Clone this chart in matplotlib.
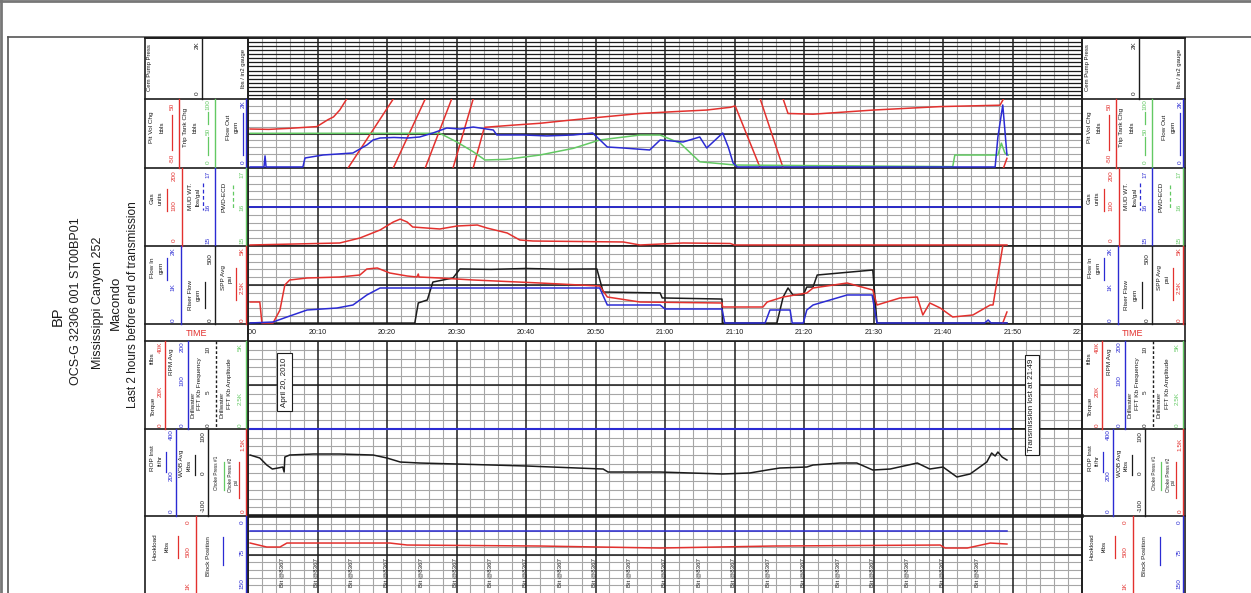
import numpy as np
import matplotlib.pyplot as plt

plt.rcParams['font.family'] = ['Liberation Sans', 'DejaVu Sans']

W, H = 1251, 593
X0, X1 = 248, 1082          # plot area in pixels
RED, BLUE, GREEN = '#e3312e', '#2b2bd3', '#63c963'
INK, MINOR = '#1c1c1c', '#a6a6a6'
nan = np.nan

# ---------------- data (time = minutes after 20:00) ----------------
time_labels = ['20:00', '20:10', '20:20', '20:30', '20:40', '20:50', '21:00',
               '21:10', '21:20', '21:30', '21:40', '21:50', '22:00']
bit_minutes = list(range(5, 110, 5))
bit_text = 'Bit @8367'

# track 2 : pit volume change (wraps at +/-50 bbl), trip tank, flow out
pit_t = [0.3, 3.0, 6.0, 9.9, 11.5, 12.3, 13.2, 14.2, nan,
         14.4, 20.9, nan, 20.9, 25.5, nan, 25.5, 29.3, nan, 29.5, 32.4, nan,
         32.4, 33.9, 34.1, 38.0, 42.0, 46.0, 50.6, 56.4, 61.2, 66.0, 69.4, 70.1, 73.7, nan,
         73.7, 77.0, nan,
         77.0, 77.7, 81.3, 90.0, 99.6, 108.2, 108.7, nan,
         108.7, 109.2]
pit_v = [6.5, 6.0, 7.5, 10, 20, 24, 34, 50, nan,
         -50, 50, nan, -50, 50, nan, -50, 50, nan, -50, 50, nan,
         -50, 5, 9, 12, 14.8, 19, 23.5, 29, 31.6, 34, 38, 40, -50, nan,
         50, -50, nan,
         50, 29, 28, 34, 39, 41, 50, nan,
         -50, -36]

trip_t = [0.3, 27.6, 30.0, 32.4, 34.1, 37.2, 42.0, 46.8, 50.6, 56.4, 59.3, 62.2,
          65.0, 70.1, 101.4, 101.7, 107.9, 108.4, 108.9, 109.4]
trip_v = [50.3, 50.3, 38, 23.6, 11.6, 12.6, 18.8, 28.5, 40.6, 47.8, 47.8, 35.8,
          9, 4.3, 2, 18.8, 18.8, 36, 21.7, 18.8]

fout_t = [0.3, 2.3, 2.45, 2.6, 7.9, 8.2, 10.8, 15.1, 17.1, 18.0, 19.0, 21.0, 23.0,
          24.7, 26.6, 28.6, 30.5, 32.4, 35.3, 35.8, 39.6, 43.0, 46.8, 49.6, 51.7,
          54.0, 57.8, 59.3, 62.6, 65.0, 66.0, 68.3, 69.1, 69.8, 70.4, 107.5, 107.9,
          108.6, 109.2]
fout_v = [30, 30, 350, 30, 30, 290, 377, 435, 667, 812, 870, 885, 870,
          899, 1014, 1159, 1130, 1188, 1101, 957, 957, 930, 957, 1014, 609,
          580, 522, 812, 754, 899, 580, 1014, 609, 145, 30, 30, 899,
          1826, 377]

# track 3 : gas, mud weight
gas_t = [0.3, 13.2, 16.1, 19.0, 20.9, 21.9, 22.9, 23.7, 27.6, 30.1, 33.0, 34.4,
         37.3, 39.1, 41.0, 54.0, 56.4, 62.6, 69.4, 70.0, 109.2]
gas_v = [2.6, 7.7, 20.5, 41, 61.5, 69, 61.5, 48.7, 43.6, 51.3, 53.8, 46,
         33.3, 15.4, 12.8, 10.3, 2.6, 7.7, 6.4, 2.6, 2.6]
mudwt_t = [0, 120]
mudwt_v = [16, 16]

# track 4 : SPP, flow in, riser flow
spp_t = [0.3, 1.7, 2.0, 3.6, 4.6, 5.3, 6.0, 8.5, 13.2, 16.1, 17.1, 18.6, 20.4,
         22.9, 24.3, 24.5, 24.6, 27.6, 32.4, 42.0, 50.6, 51.7, 56.4, 68.2, 68.3,
         74.1, 74.7, 77.0, 80.4, 81.3, 86.2, 89.9, 90.5, 93.8, 96.3, 97.1, 98.1,
         99.6, 101.4, 104.3, 106.8, 107.2, 108.6, nan, 108.6, 109.2]
spp_v = [1410, 1410, 64, 64, 897, 2500, 2821, 2949, 3013, 3141, 3526, 3590, 3269,
         3077, 3013, 3205, 3013, 2949, 2821, 2628, 2436, 1731, 1410, 1346, 1090,
         1090, 1410, 1731, 1987, 2308, 2628, 2179, 1218, 1667, 1731, 577, 1346,
         1026, 449, 577, 1218, 1218, 5000, nan, 64, 769]

fin_t = [0.3, 3.6, 5.6, 8.5, 12.8, 15.1, 17.1, 19.0, 50.6, 51.7, 59.3, 60.0, 68.2,
         68.6, 74.4, 75.1, 78.0, 78.3, 79.9, 80.4, 81.3, 86.2, 89.8, 90.5, 106.0,
         106.5, 106.9, 109.2]
fin_v = [26, 51, 179, 359, 410, 487, 744, 923, 923, 487, 487, 385, 385,
         26, 26, 359, 359, 26, 26, 359, 487, 744, 744, 26, 26,
         103, 26, 26]

riser_t = [0.3, 24.0, 24.5, 25.8, 26.6, 29.5, 30.5, 35.0, 40.0, 45.0, 50.2, 51.1,
           59.3, 59.6, 68.2, 68.3, 76.1, 77.0, 77.7, 78.4, 79.9, 80.4, 81.3, 81.9,
           89.9, 90.5, 109.2]
riser_v = [6, 6, 135, 154, 269, 295, 353, 350, 356, 351, 353, 205,
           199, 167, 160, 6, 6, 173, 231, 186, 186, 237, 237, 314,
           346, 6, 6]

# track 5 : rpm
rpm_t = [0, 109.6]
rpm_v = [0, 0]

# track 6 : WOB
wob_t = [0.3, 1.7, 2.7, 3.5, 4.3, 5.0, 5.2, 5.3, 6.0, 9.4, 13.2, 18.0, 20.0, 21.9,
         24.7, 30.1, 40.1, 51.1, 51.8, 59.3, 63.6, 68.3, 72.2, 74.7, 76.5, 80.4,
         81.3, 85.2, 87.6, 89.9, 92.4, 96.3, 98.1, 100.0, 102.0, 103.9, 106.3,
         107.0, 107.5, 107.9, 108.5, 109.2]
wob_v = [40.2, 33.3, 17.2, 8, 10.3, 12.6, 1.1, 35.6, 40.2, 42.5, 42.5, 40.2, 33.3, 24.1,
         21.8, 19.5, 14.9, 8, 1.1, 1.1, -1.1, -3.4, -1.1, 5.7, 10.3, 12.6,
         17.2, 21.8, 21.8, 5.7, 8, 21.8, 8, 12.6, -10.3, -3.4, 24.1,
         44.8, 37.9, 47.1, 35.6, 28.7]

# track 7 : hookload, block position
hook_t = [0.3, 2.7, 4.6, 5.6, 20.4, 22.9, 42.0, 59.3, 75.5, 99.6, 100.3, 103.5, 106.8, 109.2]
hook_v = [351, 403, 403, 351, 351, 377, 390, 416, 390, 377, 416, 416, 351, 364]
block_t = [0.3, 109.2]
block_v = [29, 29]

# ---------------- layout ----------------
T1, T2, T3, T4, TT = (38, 99), (99, 168), (168, 246), (246, 324), (324, 341)
T5, T6, T7 = (341, 429), (429, 516), (516, 593)

fig = plt.figure(figsize=(W / 100, H / 100), dpi=100, facecolor='white')


def rect(top, bot):
    return [X0 / W, 1 - bot / H, (X1 - X0) / W, (bot - top) / H]


def grid_axes(tr, mid=True, dense=0):
    ax = fig.add_axes(rect(*tr))
    ax.set_xlim(0, 120)
    ax.set_ylim(0, 1)
    ax.set_xticks([])
    ax.set_yticks([])
    for m in range(2, 120, 2):
        if m % 10:
            ax.axvline(m, color=MINOR, lw=0.8)
    if dense:
        for k in range(1, dense + 1):
            ax.axhline(k / (dense + 1), color=INK, lw=0.9)
    else:
        for k in range(1, 10):
            ax.axhline(k / 10, color=MINOR, lw=0.8)
        if mid:
            ax.axhline(0.5, color=INK, lw=1.1)
    for m in range(10, 120, 10):
        ax.axvline(m, color=INK, lw=1.1)
    for s in ax.spines.values():
        s.set_color(INK)
        s.set_linewidth(1.2)
    return ax


def curve_axes(tr, lo, hi):
    ax = fig.add_axes(rect(*tr))
    ax.set_xlim(0, 120)
    ax.set_ylim(lo, hi)
    ax.axis('off')
    ax.patch.set_visible(False)
    return ax


grid_axes(T1, dense=14)
grid_axes(T2)
grid_axes(T3)
grid_axes(T4)
grid_axes(T5)
grid_axes(T6, mid=False)
g7 = grid_axes(T7)
g7.spines['bottom'].set_visible(False)
g7.spines['top'].set_linewidth(2.6)

# time row
ta = fig.add_axes(rect(*TT))
ta.set_xlim(0, 120)
ta.set_ylim(0, 1)
ta.set_xticks([])
ta.set_yticks([])
for s in ta.spines.values():
    s.set_color(INK)
    s.set_linewidth(1.2)
for i, lab in enumerate(time_labels):
    ta.text(i * 10, 0.5, lab, ha='center', va='center', fontsize=5.2,
            color=INK, clip_on=True)

lw = 1.1
a = curve_axes(T2, -50, 50)
a.plot(pit_t, pit_v, color=RED, lw=lw)
a = curve_axes(T2, 0, 100)
a.plot(trip_t, trip_v, color=GREEN, lw=lw)
a = curve_axes(T2, 0, 2000)
a.plot(fout_t, fout_v, color=BLUE, lw=lw)

a = curve_axes(T3, 15, 17)
a.plot(mudwt_t, mudwt_v, color=BLUE, lw=1.3)
a = curve_axes(T3, 0, 200)
a.plot(gas_t, gas_v, color=RED, lw=lw)

a = curve_axes(T4, 0, 500)
a.plot(riser_t, riser_v, color=INK, lw=lw)
a = curve_axes(T4, 0, 5000)
a.plot(spp_t, spp_v, color=RED, lw=lw)
a = curve_axes(T4, 0, 2000)
a.plot(fin_t, fin_v, color=BLUE, lw=lw)

a = curve_axes(T5, 0, 200)
a.plot(rpm_t, rpm_v, color=BLUE, lw=1.5, clip_on=False)

a = curve_axes(T6, -100, 100)
a.plot(wob_t, wob_v, color=INK, lw=lw)

a = curve_axes(T7, 150, 0)
a.plot(block_t, block_v, color=BLUE, lw=lw)
a = curve_axes(T7, 1000, 0)
a.plot(hook_t, hook_v, color=RED, lw=lw)
for m in bit_minutes:
    a.text(m - 0.2, 1000 * (558 - 516) / 77, bit_text, rotation=90, ha='center',
           va='top', fontsize=4.4, color=INK, clip_on=False)

# ---------------- overlay: frames, headers, titles ----------------
ov = fig.add_axes([0, 0, 1, 1])
ov.set_xlim(0, W)
ov.set_ylim(H, 0)
ov.axis('off')
ov.patch.set_visible(False)


def tx(m):
    return X0 + m * (X1 - X0) / 120


# window frame
ov.plot([0, W], [1, 1], color='#777777', lw=2)
ov.plot([1, 1], [0, H], color='#777777', lw=2)
ov.plot([8, W], [37, 37], color='#555555', lw=1.2)
ov.plot([8, 8], [37, H], color='#555555', lw=1.2)

# title block
titles = [('BP', 58, 316, 10.5), ('OCS-G 32306 001 ST00BP01', 76, 301, 9),
          ('Mississippi Canyon 252', 98, 303, 9), ('Macondo', 116, 303, 9.5),
          ('Last 2 hours before end of transmission', 133, 305, 8.5)]
for t, x, y, fs in titles:
    ov.text(x, y, t, rotation=90, ha='center', va='center', fontsize=fs, color=INK)

dividers = [(202, T1, INK, '-'),
            (179, T2, RED, '-'), (215, T2, GREEN, '-'), (246, T2, BLUE, '-'),
            (182, T3, RED, '-'), (215, T3, BLUE, '-'), (246, T3, GREEN, '-'),
            (181, T4, BLUE, '-'), (215, T4, INK, '-'), (246, T4, RED, '-'),
            (165, T5, RED, '-'), (188, T5, BLUE, '-'), (216, T5, INK, (0, (2, 1.5))),
            (246, T5, GREEN, '-'),
            (176, T6, BLUE, '-'), (208, T6, INK, '-'), (246, T6, RED, '-'),
            (196, T7, RED, '-'), (246, T7, BLUE, '-')]
legend_bits = [(172, 115, 150, RED, '-'), (208, 112, 124, GREEN, '-'),
               (208, 137, 155, GREEN, '-'), (243, 113, 155, BLUE, '-'),
               (167, 189, 211, RED, '-'), (203, 183, 210, BLUE, (0, (3, 2))),
               (233, 185, 210, GREEN, (0, (3, 2))), (167, 258, 280, BLUE, '-'),
               (205, 282, 308, INK, '-'), (236, 268, 300, RED, '-'),
               (166, 452, 472, BLUE, '-'), (195, 455, 475, INK, '-'),
               (224, 462, 490, GREEN, '-'), (239, 462, 498, RED, '-'),
               (178, 536, 558, RED, '-'), (223, 537, 565, BLUE, '-')]
S = 4.6
head_text = [
    ('Cem Pump Press', 150, 68, INK, 4.3), ('2K', 197, 45, INK, S), ('0', 197, 93, INK, S),
    ('lbs / in2 gauge', 243, 68, INK, 4.3),
    ('Pit Vol Chg', 152, 127, INK, S), ('bbls', 162, 127, INK, S),
    ('-50', 172, 158, RED, S), ('50', 172, 106, RED, S),
    ('Trip Tank Chg', 185, 127, INK, S), ('bbls', 195, 127, INK, S),
    ('0', 208, 162, GREEN, S), ('50', 208, 131, GREEN, S), ('100', 208, 105, GREEN, S),
    ('Flow Out', 228, 127, INK, S), ('gpm', 236, 127, INK, S),
    ('0', 243, 162, BLUE, S), ('2K', 243, 104, BLUE, S),
    ('Gas', 152, 198, INK, S), ('units', 160, 198, INK, S),
    ('0', 174, 240, RED, S), ('100', 174, 206, RED, S), ('200', 174, 176, RED, S),
    ('MUD WT.', 190, 196, INK, S), ('lbs/gal', 198, 197, INK, S),
    ('15', 208, 240, BLUE, S), ('16', 208, 207, BLUE, S), ('17', 208, 174, BLUE, S),
    ('PWD-ECD', 224, 197, INK, S),
    ('15', 242, 240, GREEN, S), ('16', 242, 207, GREEN, S), ('17', 242, 174, GREEN, S),
    ('Flow In', 153, 268, INK, S), ('gpm', 161, 268, INK, S),
    ('0', 173, 320, BLUE, S), ('1K', 173, 287, BLUE, S), ('2K', 173, 251, BLUE, S),
    ('Riser Flow', 190, 295, INK, S), ('gpm', 198, 295, INK, S),
    ('0', 210, 320, INK, S), ('500', 210, 259, INK, S),
    ('SPP Avg', 223, 278, INK, S), ('psi', 230, 279, INK, S),
    ('0', 242, 320, RED, S), ('2.5K', 242, 287, RED, S), ('5K', 242, 251, RED, S),
    ('Torque', 153, 406, INK, S), ('ftlbs', 152, 358, INK, S),
    ('0', 160, 425, RED, S), ('20K', 160, 391, RED, S), ('40K', 160, 347, RED, S),
    ('RPM Avg', 172, 362, INK, S),
    ('0', 182, 425, BLUE, S), ('100', 182, 381, BLUE, S), ('200', 182, 347, BLUE, S),
    ('Drillwater', 193, 405, INK, S), ('FFT Kb Frequency', 200, 384, INK, S),
    ('0', 208, 425, INK, S), ('5', 208, 392, INK, S), ('10', 208, 349, INK, S),
    ('Drillwater', 222, 405, INK, S), ('FFT Kb Amplitude', 230, 384, INK, S),
    ('0', 240, 425, GREEN, S), ('2.5K', 240, 398, GREEN, S), ('5K', 240, 347, GREEN, S),
    ('ROP Inst', 153, 458, INK, S), ('ft/hr', 160, 460, INK, S),
    ('0', 171, 511, BLUE, S), ('200', 171, 476, BLUE, S), ('400', 171, 435, BLUE, S),
    ('WOB Avg', 182, 463, INK, S), ('klbs', 189, 465, INK, S),
    ('-100', 203, 505, INK, S), ('0', 203, 473, INK, S), ('100', 203, 437, INK, S),
    ('Choke Press #1', 217, 473, INK, 3.4), ('Choke Press #2', 231, 475, INK, 3.4),
    ('psi', 236, 482, INK, 3.4),
    ('0', 243, 511, RED, S), ('1.5K', 243, 444, RED, S),
    ('Hookload', 155, 547, INK, S), ('klbs', 167, 546, INK, S),
    ('0', 188, 522, RED, S), ('500', 188, 552, RED, S), ('1K', 188, 586, RED, S),
    ('Block Position', 208, 556, INK, S),
    ('0', 242, 522, BLUE, S), ('75', 242, 552, BLUE, S), ('150', 242, 584, BLUE, S),
]


def draw_header(dx):
    left, right = 145 + dx, 248 + dx
    for tr in (T1, T2, T3, T4, TT, T5, T6, T7):
        ov.plot([left, right], [tr[0], tr[0]], color=INK, lw=1.2)
    ov.plot([left, left], [38, H], color=INK, lw=1.2)
    ov.plot([right, right], [38, H], color=INK, lw=1.2)
    for x, tr, c, ls in dividers:
        ov.plot([x + dx, x + dx], tr, color=c, lw=1.0, ls=ls)
    for x, y0, y1, c, ls in legend_bits:
        ov.plot([x + dx, x + dx], [y0, y1], color=c, lw=0.9, ls=ls)
    for t, x, y, c, fs in head_text:
        ov.text(x + dx, y, t, rotation=90, ha='center', va='center', fontsize=fs, color=c)
    ov.text(196 + dx, 333, 'TIME', ha='center', va='center', fontsize=6.5, color=RED)


draw_header(0)
draw_header(X1 - 145)
ov.plot([145, X1 + 103], [38, 38], color=INK, lw=1.2)

# annotation boxes
box = dict(boxstyle='square,pad=0.5', fc='white', ec=INK, lw=0.8)
ov.text(tx(5.3), 382, 'April 20, 2010', rotation=90, ha='center', va='center',
        fontsize=5.8, color=INK, bbox=box)
box2 = dict(boxstyle='square,pad=0.45', fc='white', ec=INK, lw=0.8)
ov.text(tx(112.8), 405, 'Transmission lost at 21:49', rotation=90, ha='center',
        va='center', fontsize=5.8, color=INK, bbox=box2)

plt.savefig('out.png', dpi=100, facecolor='white')
